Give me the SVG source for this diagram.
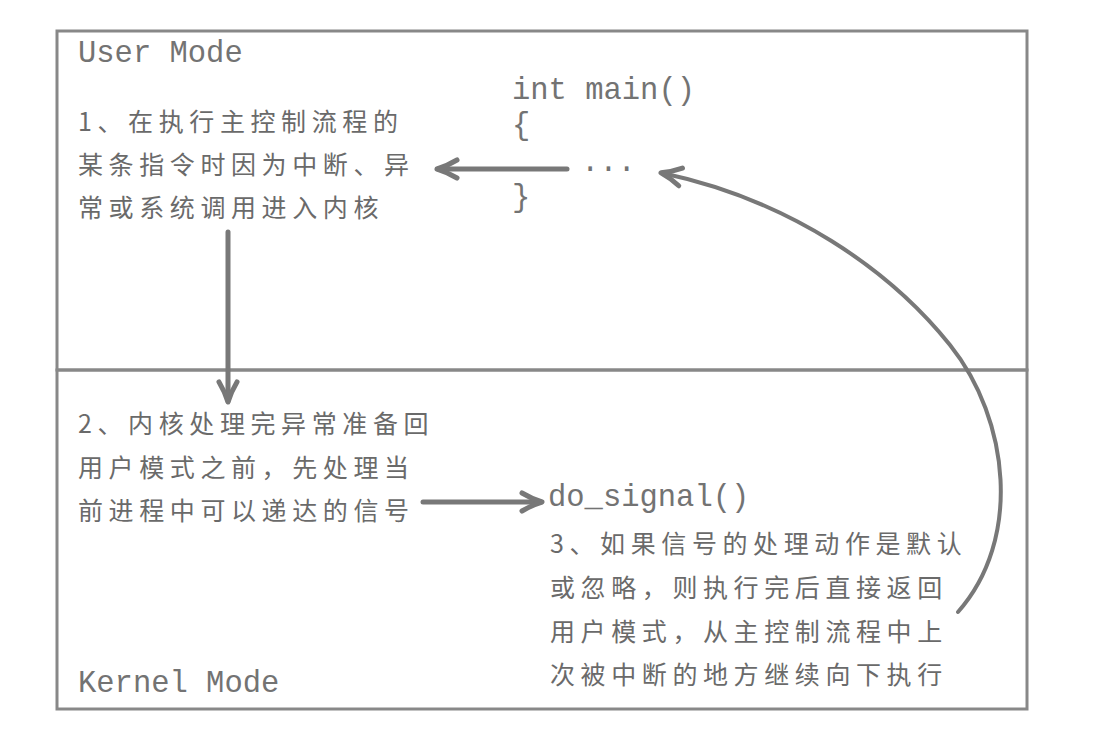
<svg xmlns="http://www.w3.org/2000/svg" width="1099" height="731" viewBox="0 0 1099 731">
  <defs>
    <style>
      .frame { fill: none; stroke: #888888; stroke-width: 3; }
      .mono { font-family: "Liberation Mono", "DejaVu Sans Mono", monospace; font-size: 30.5px; fill: #737373; }
      .cjk { font-family: "Noto Sans CJK SC", "Liberation Mono", sans-serif; font-size: 25px; letter-spacing: 5.6px; fill: #6a6a6a; }
      .arrow { fill: none; stroke: #787878; stroke-width: 5; stroke-linecap: round; stroke-linejoin: round; }
      .thin { stroke-width: 4; }
    </style>
    <marker id="head" viewBox="0 0 24 22" refX="21" refY="11" markerWidth="24" markerHeight="22" markerUnits="userSpaceOnUse" orient="auto" overflow="visible">
      <path d="M2,2 Q12,8 22,11 Q12,14 2,20" fill="none" stroke="#787878" stroke-width="5" stroke-linecap="round" stroke-linejoin="round"/>
    </marker>
  </defs>
  <rect width="1099" height="731" fill="#ffffff"/>

  <g id="user-mode">
    <rect class="frame" x="57" y="31" width="970" height="339"/>
    <text class="mono" x="78" y="62">User Mode</text>
  </g>

  <g id="kernel-mode">
    <rect class="frame" x="57" y="370" width="970" height="339"/>
    <text class="mono" x="78" y="692">Kernel Mode</text>
  </g>

  <g id="step1">
    <text class="cjk" x="78" y="131">1、在执行主控制流程的</text>
    <text class="cjk" x="78" y="174">某条指令时因为中断、异</text>
    <text class="cjk" x="78" y="217">常或系统调用进入内核</text>
  </g>

  <g id="main-code">
    <text class="mono" x="512" y="99">int main()</text>
    <text class="mono" x="512" y="134">{</text>
    <text class="mono" x="581" y="171">...</text>
    <text class="mono" x="512" y="206">}</text>
  </g>

  <g id="step2">
    <text class="cjk" x="78" y="433">2、内核处理完异常准备回</text>
    <text class="cjk" x="78" y="477">用户模式之前，先处理当</text>
    <text class="cjk" x="78" y="520">前进程中可以递达的信号</text>
  </g>

  <g id="do-signal">
    <text class="mono" x="548" y="506">do_signal()</text>
  </g>

  <g id="step3">
    <text class="cjk" x="550" y="553">3、如果信号的处理动作是默认</text>
    <text class="cjk" x="550" y="597">或忽略，则执行完后直接返回</text>
    <text class="cjk" x="550" y="641">用户模式，从主控制流程中上</text>
    <text class="cjk" x="550" y="684">次被中断的地方继续向下执行</text>
  </g>

  <g id="connectors">
    <line class="arrow" x1="567" y1="169" x2="438" y2="169" marker-end="url(#head)"/>
    <line class="arrow" x1="228" y1="232" x2="228" y2="401" marker-end="url(#head)"/>
    <line class="arrow" x1="423" y1="502" x2="541" y2="502" marker-end="url(#head)"/>
    <path class="arrow thin" d="M958,612 C1022,540 1010,420 950,345 C890,270 790,200 662,173" marker-end="url(#head)"/>
  </g>
</svg>
